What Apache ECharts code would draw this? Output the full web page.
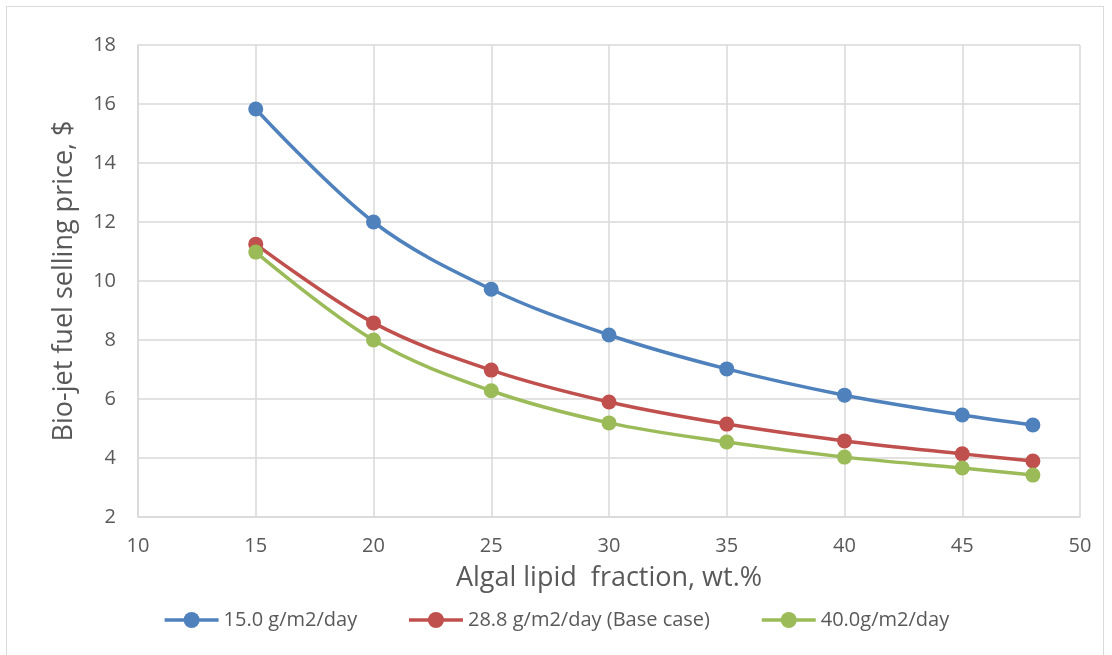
<!DOCTYPE html>
<html><head><meta charset="utf-8">
<script src="https://cdn.jsdelivr.net/npm/echarts@6/dist/echarts.min.js"></script>
<style>
html,body{margin:0;padding:0;background:#fff;}
#frame{position:absolute;left:6px;top:6px;width:1098px;height:660px;border:1px solid #d9d9d9;box-sizing:border-box;}
#chart{position:absolute;left:0;top:0;width:1112px;height:655px;}
</style></head>
<body><div id="frame"></div><div id="chart"></div>
<script>
const xValues = [15, 20, 25, 30, 35, 40, 45, 48];
const series15 = [15.83, 12.0, 9.72, 8.17, 7.02, 6.13, 5.46, 5.12];
const series288 = [11.25, 8.58, 6.98, 5.90, 5.15, 4.58, 4.14, 3.90];
const series40 = [10.98, 8.0, 6.28, 5.19, 4.54, 4.03, 3.66, 3.42];
const seriesNames = ['15.0 g/m2/day', '28.8 g/m2/day (Base case)', '40.0g/m2/day'];
const colors = ['#4f81bd', '#c0504d', '#9bbb59'];
const font = 'Open Sans, Noto Sans, sans-serif';
const chart = echarts.init(document.getElementById('chart'));
const mk = (name, vals, c) => ({
  name, type: 'line', smooth: 0.35, data: xValues.map((x, i) => [x, vals[i]]),
  symbol: 'circle', symbolSize: 15, lineStyle: {width: 3.5, color: c}, itemStyle: {color: c}
});
chart.setOption({
  animation: false,
  grid: {left: 138, right: 32, top: 45, bottom: 138},
  legend: {bottom: 20, left: 'center', itemWidth: 54, itemHeight: 20, itemGap: 50,
    lineStyle: {width: 3.5},
    textStyle: {fontFamily: font, fontSize: 20, color: '#595959'}, data: seriesNames},
  xAxis: {type: 'value', min: 10, max: 50, interval: 5,
    name: 'Algal lipid  fraction, wt.%', nameLocation: 'middle', nameGap: 48,
    nameTextStyle: {fontFamily: font, fontSize: 27, color: '#595959'},
    axisLine: {lineStyle: {color: '#d9d9d9', width: 1.5}}, axisTick: {show: false},
    axisLabel: {fontFamily: font, fontSize: 20, color: '#595959', margin: 19},
    splitLine: {show: true, lineStyle: {color: '#d9d9d9', width: 1.5}}},
  yAxis: {type: 'value', min: 2, max: 18, interval: 2,
    name: 'Bio-jet fuel selling price, $', nameLocation: 'middle', nameGap: 60,
    nameTextStyle: {fontFamily: font, fontSize: 27, color: '#595959'},
    axisLine: {show: true, lineStyle: {color: '#d9d9d9', width: 1.5}}, axisTick: {show: false},
    axisLabel: {fontFamily: font, fontSize: 20, color: '#595959', margin: 22},
    splitLine: {show: true, lineStyle: {color: '#d9d9d9', width: 1.5}}},
  series: [mk(seriesNames[0], series15, colors[0]), mk(seriesNames[1], series288, colors[1]), mk(seriesNames[2], series40, colors[2])]
});
</script></body></html>
